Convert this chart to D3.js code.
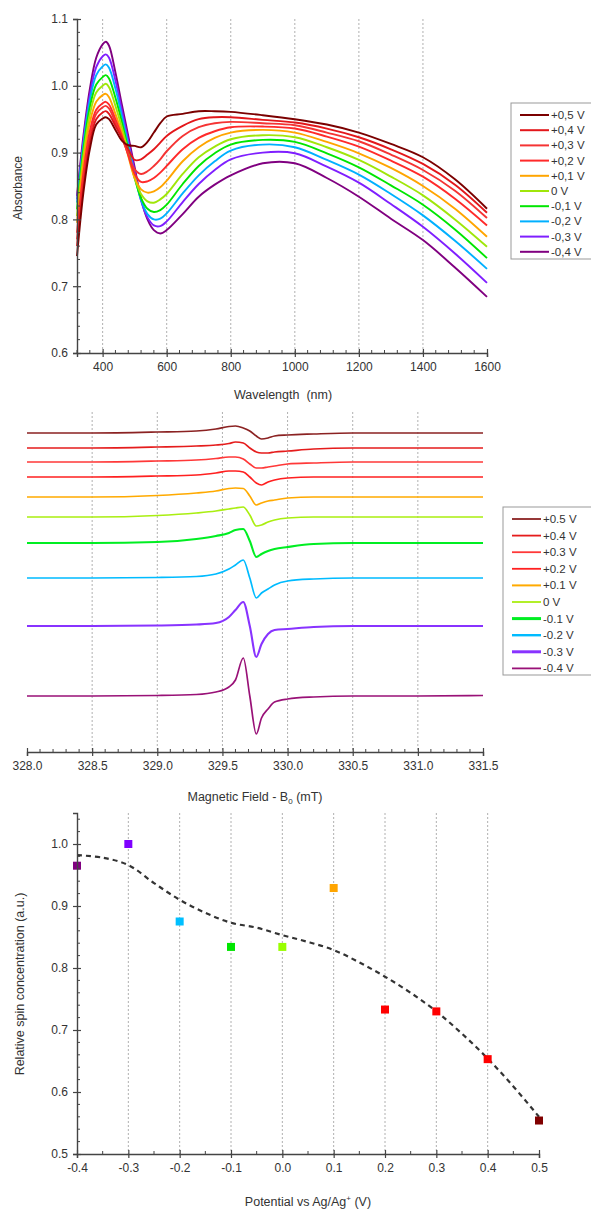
<!DOCTYPE html>
<meta charset="utf-8">
<script src="https://d3js.org/d3.v7.min.js"></script>
<head>
    <title>Spectroelectrochemistry</title>
    <style>
        body { margin: 0; background: #fff; }
        text { font-family: "Liberation Sans", Arial, sans-serif; fill: #333; }
    </style>
</head>
<body>
<div id="chart"></div>
<script>
    // ---------- data: UV-vis-NIR absorbance ----------
    const wavelength = [320, 340, 360, 380, 400, 410, 420, 440, 460, 480, 500, 520, 540, 560,
                        580, 600, 650, 700, 750, 800, 900, 1000, 1100, 1200, 1300, 1400, 1500, 1600];
    const absLabels = ["+0,5 V", "+0,4 V", "+0,3 V", "+0,2 V", "+0,1 V", "0 V", "-0,1 V", "-0,2 V", "-0,3 V", "-0,4 V"];
    const absColors = ["#7b0000", "#e3171b", "#f53434", "#ff2a2a", "#ffa500", "#a0e60a", "#00e600", "#00b0ff", "#7f1fff", "#800080"];
    const absP05 = [0.745, 0.84, 0.905, 0.942, 0.951, 0.953, 0.950, 0.934, 0.918, 0.911, 0.910, 0.908, 0.916, 0.930, 0.944, 0.954, 0.958, 0.962, 0.962, 0.961, 0.956, 0.950, 0.942, 0.930, 0.913, 0.893, 0.860, 0.816];
    const absP04 = [0.76, 0.85, 0.915, 0.950, 0.960, 0.962, 0.958, 0.940, 0.922, 0.905, 0.889, 0.890, 0.897, 0.905, 0.915, 0.925, 0.940, 0.950, 0.953, 0.953, 0.949, 0.945, 0.936, 0.923, 0.905, 0.883, 0.852, 0.810];
    const absP03 = [0.77, 0.86, 0.925, 0.958, 0.968, 0.970, 0.966, 0.945, 0.922, 0.898, 0.875, 0.868, 0.872, 0.880, 0.890, 0.902, 0.925, 0.938, 0.944, 0.946, 0.944, 0.941, 0.930, 0.917, 0.897, 0.874, 0.843, 0.802];
    const absP02 = [0.78, 0.87, 0.932, 0.964, 0.974, 0.976, 0.972, 0.950, 0.925, 0.896, 0.868, 0.856, 0.857, 0.862, 0.870, 0.880, 0.905, 0.922, 0.932, 0.938, 0.939, 0.936, 0.924, 0.909, 0.888, 0.864, 0.831, 0.791];
    const absP01 = [0.795, 0.885, 0.945, 0.976, 0.986, 0.988, 0.983, 0.958, 0.930, 0.895, 0.862, 0.845, 0.840, 0.842, 0.848, 0.858, 0.887, 0.908, 0.922, 0.930, 0.934, 0.930, 0.916, 0.899, 0.877, 0.850, 0.816, 0.774];
    const abs0   = [0.805, 0.895, 0.957, 0.990, 1.000, 1.003, 0.998, 0.970, 0.938, 0.900, 0.862, 0.838, 0.827, 0.825, 0.830, 0.838, 0.868, 0.893, 0.909, 0.920, 0.926, 0.923, 0.908, 0.889, 0.864, 0.836, 0.800, 0.759];
    const absM01 = [0.815, 0.905, 0.968, 1.002, 1.013, 1.016, 1.011, 0.982, 0.946, 0.905, 0.862, 0.832, 0.816, 0.811, 0.814, 0.822, 0.853, 0.880, 0.899, 0.912, 0.919, 0.916, 0.899, 0.878, 0.851, 0.822, 0.785, 0.742];
    const absM02 = [0.825, 0.912, 0.978, 1.016, 1.029, 1.032, 1.027, 0.996, 0.955, 0.912, 0.866, 0.829, 0.808, 0.800, 0.801, 0.809, 0.839, 0.866, 0.887, 0.903, 0.912, 0.908, 0.889, 0.867, 0.838, 0.806, 0.768, 0.726];
    const absM03 = [0.83, 0.918, 0.986, 1.028, 1.044, 1.047, 1.042, 1.008, 0.963, 0.918, 0.872, 0.828, 0.803, 0.791, 0.790, 0.797, 0.826, 0.853, 0.874, 0.890, 0.900, 0.899, 0.879, 0.855, 0.823, 0.789, 0.749, 0.705];
    const absM04 = [0.835, 0.925, 0.995, 1.042, 1.062, 1.066, 1.060, 1.020, 0.972, 0.925, 0.878, 0.831, 0.800, 0.784, 0.779, 0.784, 0.808, 0.834, 0.852, 0.866, 0.884, 0.884, 0.862, 0.834, 0.801, 0.769, 0.728, 0.684];
    const absSeries = [absP05, absP04, absP03, absP02, absP01, abs0, absM01, absM02, absM03, absM04];

    // ---------- data: EPR spectra (offset traces, a.u.) ----------
    const field = [328.0, 328.5, 329.0, 329.3, 329.45, 329.55, 329.6, 329.66, 329.71, 329.76,
                   329.8, 329.85, 329.9, 330.0, 330.2, 330.5, 331.0, 331.5];
    const eprLabels = ["+0.5 V", "+0.4 V", "+0.3 V", "+0.2 V", "+0.1 V", "0 V", "-0.1 V", "-0.2 V", "-0.3 V", "-0.4 V"];
    const eprColors = ["#8b2222", "#e51c1c", "#ff3838", "#ff2020", "#ffaa00", "#aaee11", "#00ee22", "#00bbff", "#8833ff", "#991177"];
    const eprOffsets = [319, 304, 290, 275, 255, 235, 209, 174, 126, 56];
    const eprP05 = [0, 0, 1, 2, 4, 6.5, 7, 5, 2, -3, -6, -5, -3, -2, -1, 0, 0, 0];
    const eprP04 = [0, 0, 1, 2, 3, 4.5, 6, 5, 0, -4, -5, -5, -4, -3, -1, 0, 0, 0];
    const eprP03 = [0, 0, 1, 2, 3.5, 5, 5, 3, -2, -6, -6, -5, -4, -2, -1, 0, 0, 0];
    const eprP02 = [0, 0, 1, 2, 4, 6, 6, 5, 0, -6, -8, -5, -3, -1, 0, 0, 0, 0];
    const eprP01 = [0, 0, 1.5, 4, 6, 8.5, 9, 8.5, 1, -8, -6, -4, -3, -1, 0, 0, 0, 0];
    const epr0   = [0, 0, 1.5, 4, 6, 8, 9, 10, 2, -9, -8, -5, -3, -1, 0, 0, 0, 0];
    const eprM01 = [0, 0, 1, 4, 7, 10, 13, 14, 2, -14, -11, -8, -6, -4, -1, 0, 0, 0];
    const eprM02 = [0, 0, 0.5, 1.5, 4, 9, 13, 18, 0, -20, -15, -11, -7, -3, -1, 0, 0, 0];
    const eprM03 = [0, 0, 0.5, 1.5, 3, 9, 16, 24, 0, -31, -18, -8, -4, -3, -1, 0, 0, 0];
    const eprM04 = [0, 0, 0.5, 1.5, 4, 9, 16, 38, 0, -38, -22, -13, -6, -3, -1, 0, 0, 0.5];
    const eprSeries = [eprP05, eprP04, eprP03, eprP02, eprP01, epr0, eprM01, eprM02, eprM03, eprM04];

    // ---------- data: relative spin concentration ----------
    const potential = [-0.4, -0.3, -0.2, -0.1, 0.0, 0.1, 0.2, 0.3, 0.4, 0.5];
    const spinConc = [0.965, 1.0, 0.875, 0.834, 0.834, 0.929, 0.733, 0.730, 0.653, 0.554];
    const spinColors = ["#800080", "#7f00ff", "#00bfff", "#00e600", "#99ff00", "#ffa500", "#ff0000", "#ff0000", "#ff0000", "#800000"];
    const fitX = [-0.4, -0.35, -0.3, -0.25, -0.2, -0.15, -0.1, -0.05, 0, 0.05, 0.1, 0.15, 0.2, 0.25, 0.3, 0.35, 0.4, 0.45, 0.5];
    const fitY = [0.982, 0.978, 0.966, 0.937, 0.910, 0.889, 0.873, 0.865, 0.853, 0.842, 0.829, 0.809, 0.786, 0.760, 0.730, 0.694, 0.654, 0.609, 0.560];

    const svg = d3.select("#chart")
        .append("svg")
        .attr("width", 591)
        .attr("height", 1210);

    const axisColor = "#444";

    // draw an axis with crossing major ticks and inward minor ticks
    const drawAxis = (g, orient, scale, majors, minors, fmt) => {
        const horiz = orient === "bottom";
        const ax = (horiz ? d3.axisBottom(scale) : d3.axisLeft(scale))
            .tickValues(majors).tickSize(4).tickPadding(5).tickFormat(fmt);
        g.call(ax);
        g.select(".domain").attr("stroke", axisColor).attr("stroke-width", 1.4);
        g.selectAll(".tick line").attr("stroke", axisColor).attr("stroke-width", 1.2)
            .attr(horiz ? "y1" : "x1", horiz ? -4 : 4);
        g.selectAll(".tick text")
            .style("font-family", "'Liberation Sans', Arial, sans-serif")
            .style("font-size", "12px").attr("fill", "#333");
        g.selectAll(".minor")
            .data(minors)
            .join("line")
            .attr("class", "minor")
            .attr("stroke", axisColor)
            .attr("stroke-width", 1)
            .attr("x1", d => horiz ? scale(d) : 0)
            .attr("x2", d => horiz ? scale(d) : 3)
            .attr("y1", d => horiz ? 0 : scale(d))
            .attr("y2", d => horiz ? -3 : scale(d));
    };

    const gridX = (g, scale, values, y0, y1) => {
        g.selectAll(".grid")
            .data(values)
            .join("line")
            .attr("class", "grid")
            .attr("x1", d => scale(d)).attr("x2", d => scale(d))
            .attr("y1", y0).attr("y2", y1)
            .attr("stroke", "#b0b0b0")
            .attr("stroke-width", 1)
            .attr("stroke-dasharray", "2,2");
    };

    const legend = (g, labels, colors, x, y, w, h, rowH, widths) => {
        g.append("rect")
            .attr("x", x).attr("y", y).attr("width", w).attr("height", h)
            .attr("fill", "#fff").attr("stroke", "#999").attr("stroke-width", 1);
        const row = g.selectAll(".leg")
            .data(labels)
            .join("g")
            .attr("transform", (d, i) => `translate(${x + 9}, ${y + 12 + i * rowH})`);
        row.append("line")
            .attr("x1", 0).attr("x2", 29)
            .attr("stroke", (d, i) => colors[i])
            .attr("stroke-width", (d, i) => widths[i]);
        row.append("text")
            .attr("x", 31).attr("dy", "0.35em")
            .style("font-size", "11.5px")
            .text(d => d);
    };

    // ================= panel 1: absorbance =================
    const x1 = d3.scaleLinear().domain([320, 1600]).range([77, 487]);
    const y1 = d3.scaleLinear().domain([0.6, 1.1]).range([353, 19]);
    const p1 = svg.append("g");

    gridX(p1, x1, [400, 600, 800, 1000, 1200, 1400], 19, 353);

    const line1 = d3.line()
        .x((d, i) => x1(wavelength[i]))
        .y(d => y1(d))
        .curve(d3.curveCatmullRom.alpha(0.5));

    p1.selectAll(".abs")
        .data(absSeries.slice().reverse())
        .join("path")
        .attr("class", "abs")
        .attr("d", line1)
        .attr("fill", "none")
        .attr("stroke", (d, i) => absColors[absColors.length - 1 - i])
        .attr("stroke-width", 1.9);

    drawAxis(p1.append("g").attr("transform", "translate(0,353)"), "bottom", x1,
        [400, 600, 800, 1000, 1200, 1400, 1600],
        d3.range(320, 1601, 40).filter(d => d % 200 !== 0), d => d);
    drawAxis(p1.append("g").attr("transform", "translate(77,0)"), "left", y1,
        [0.6, 0.7, 0.8, 0.9, 1.0, 1.1],
        d3.range(0.62, 1.1, 0.02).filter(d => Math.abs(d * 10 - Math.round(d * 10)) > 0.05), d => d.toFixed(1));

    p1.append("text")
        .attr("transform", "translate(22,188) rotate(-90)")
        .attr("text-anchor", "middle")
        .style("font-size", "12px")
        .text("Absorbance");
    p1.append("text")
        .attr("x", 283).attr("y", 399)
        .attr("text-anchor", "middle")
        .style("font-size", "12.5px")
        .style("white-space", "pre")
        .text("Wavelength  (nm)");

    legend(p1, absLabels, absColors, 511, 103, 90, 156, 15.2, [2, 2, 2, 2, 2, 2, 2, 2, 2, 2]);

    // ================= panel 2: EPR =================
    const x2 = d3.scaleLinear().domain([328.0, 331.5]).range([27, 483]);
    const y2 = d3.scaleLinear().domain([0, 340]).range([752, 412]);
    const p2 = svg.append("g");

    gridX(p2, x2, [328.5, 329.0, 329.5, 330.0, 330.5, 331.0], 412, 752);

    const line2 = off => d3.line()
        .x((d, i) => x2(field[i]))
        .y(d => y2(off + d))
        .curve(d3.curveMonotoneX);

    eprSeries.forEach((s, i) => {
        p2.append("path")
            .datum(s)
            .attr("d", line2(eprOffsets[i]))
            .attr("fill", "none")
            .attr("stroke", eprColors[i])
            .attr("stroke-width", (i === 6 || i === 8) ? 2.1 : 1.7);
    });

    drawAxis(p2.append("g").attr("transform", "translate(0,752)"), "bottom", x2,
        [328.0, 328.5, 329.0, 329.5, 330.0, 330.5, 331.0, 331.5],
        d3.range(3281, 3315, 1).filter(d => d % 5 !== 0).map(d => d / 10), d => d.toFixed(1));

    const lab2 = p2.append("text")
        .attr("x", 255).attr("y", 801)
        .attr("text-anchor", "middle")
        .style("font-size", "12.5px");
    lab2.append("tspan").text("Magnetic Field - B");
    lab2.append("tspan").attr("dy", 3).style("font-size", "8px").text("0");
    lab2.append("tspan").attr("dy", -3).text(" (mT)");

    legend(p2, eprLabels, eprColors, 503, 507, 100, 168, 16.6, [1.8, 1.8, 1.8, 1.8, 2, 1.8, 3, 2.4, 3, 1.8]);

    // ================= panel 3: spin concentration =================
    const x3 = d3.scaleLinear().domain([-0.4, 0.5]).range([77, 539]);
    const y3 = d3.scaleLinear().domain([0.5, 1.05]).range([1154, 813]);
    const p3 = svg.append("g");

    gridX(p3, x3, [-0.3, -0.2, -0.1, 0.0, 0.1, 0.2, 0.3, 0.4], 813, 1154);

    const fitLine = d3.line()
        .x((d, i) => x3(fitX[i]))
        .y(d => y3(d))
        .curve(d3.curveCatmullRom.alpha(0.5));
    p3.append("path")
        .datum(fitY)
        .attr("d", fitLine)
        .attr("fill", "none")
        .attr("stroke", "#333")
        .attr("stroke-width", 2.2)
        .attr("stroke-dasharray", "5,4");

    p3.selectAll(".pt")
        .data(spinConc)
        .join("rect")
        .attr("class", "pt")
        .attr("x", (d, i) => x3(potential[i]) - 4)
        .attr("y", d => y3(d) - 4)
        .attr("width", 8).attr("height", 8)
        .attr("fill", (d, i) => spinColors[i]);

    drawAxis(p3.append("g").attr("transform", "translate(0,1154)"), "bottom", x3,
        potential,
        [-0.35, -0.25, -0.15, -0.05, 0.05, 0.15, 0.25, 0.35, 0.45], d => d.toFixed(1));
    drawAxis(p3.append("g").attr("transform", "translate(77,0)"), "left", y3,
        [0.5, 0.6, 0.7, 0.8, 0.9, 1.0],
        d3.range(52, 105, 2).filter(d => d % 10 !== 0).map(d => d / 100), d => d.toFixed(1));

    p3.append("text")
        .attr("transform", "translate(24,984) rotate(-90)")
        .attr("text-anchor", "middle")
        .style("font-size", "12.5px")
        .text("Relative spin concentration (a.u.)");
    const lab3 = p3.append("text")
        .attr("x", 308).attr("y", 1206)
        .attr("text-anchor", "middle")
        .style("font-size", "12.5px");
    lab3.append("tspan").text("Potential vs Ag/Ag");
    lab3.append("tspan").attr("dy", -5).style("font-size", "8px").text("+");
    lab3.append("tspan").attr("dy", 5).text(" (V)");
</script>
</body>
